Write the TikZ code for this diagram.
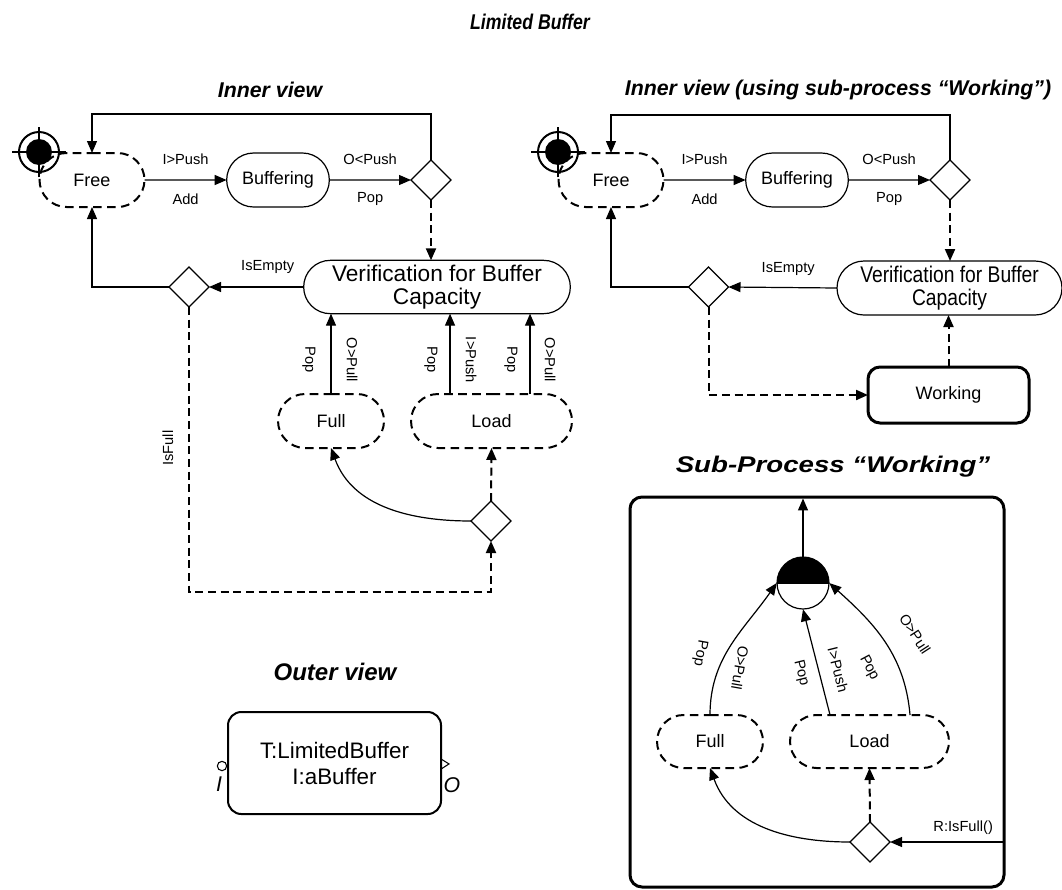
\documentclass[tikz,border=0pt]{standalone}
\usepackage{fontspec}
\usepackage{graphicx}
\setmainfont{Liberation Sans}
\usetikzlibrary{shapes.misc,shapes.geometric,arrows.meta}
\begin{document}
\begin{tikzpicture}[x=0.75pt,y=-0.75pt,
  every node/.style={font=\fontsize{13.5}{17}\selectfont},
  st/.style={rounded rectangle, draw, line width=0.9pt, minimum height=40.5pt, inner sep=0pt, outer sep=0pt},
  dst/.style={st, line width=1.5pt, dash pattern=on 6.5pt off 4pt},
  dec/.style={diamond, draw, line width=0.9pt, minimum width=30pt, minimum height=30pt, inner sep=0pt, outer sep=0pt},
  lbl/.style={font=\fontsize{11}{12}\selectfont, inner sep=0pt},
  arr/.style={line width=0.9pt, -{Triangle[length=9pt,width=7.5pt]}},
  darr/.style={arr, line width=1.5pt, dash pattern=on 6pt off 3.5pt},
  ttl/.style={font=\fontsize{16}{18}\selectfont\bfseries\itshape, inner sep=0pt},
  bigbox/.style={draw, rectangle, rounded corners=9pt, line width=2.25pt, inner sep=0pt, outer sep=0pt},
  startsym/.style={circle, draw, line width=1.5pt, minimum size=30pt, inner sep=0pt},
  vertxt/.style={font=\fontsize{17}{17.25}\selectfont}
]
\useasboundingbox (0,0) rectangle (1062,889);

% ---------- titles ----------
\node[ttl] (tmain) at (530,22) {\scalebox{0.83}[1]{Limited Buffer}};
\node[ttl] (tin1) at (270,90) {Inner view};
\node[ttl] (tin2) at (838,90) {Inner view (using sub-process “Working”)};
\node[ttl, font=\fontsize{17}{19}\selectfont\bfseries\itshape] (tsub) at (833,467) {\scalebox{1.22}[1]{Sub-Process “Working”}};
\node[ttl, font=\fontsize{18}{20}\selectfont\bfseries\itshape] (tout) at (335,672) {Outer view};

% ---------- left inner view ----------
\node[startsym] (s1) at (39,152) {};
\fill (s1.center) circle (9.75pt);
\draw[line width=1.5pt] ([xshift=-20pt]s1.center) -- ([xshift=20pt]s1.center);
\draw[line width=1.5pt] ([yshift=-19pt]s1.center) -- ([yshift=19pt]s1.center);

\node[dst, minimum width=78.75pt] (free1) at (92,180) {Free};
\node[st, minimum width=77pt] (buf1) at (278,180) {Buffering};
\node[dec] (d1) at (431,180) {};
\node[st, vertxt, minimum width=200pt, minimum height=40pt, align=center] (ver1) at (437,287) {Verification for Buffer\\Capacity};
\node[dec] (d2) at (189,287) {};
\node[dst, minimum width=79.5pt] (full1) at (331,421) {Full};
\node[dst, minimum width=120.75pt] (load1) at (491.5,421) {Load};
\node[dec] (d3) at (491,521) {};

\draw[arr] (free1) -- (buf1)
  node[lbl, midway, yshift=15.75pt] {I>Push}
  node[lbl, midway, yshift=-14.25pt] {Add};
\draw[arr] (buf1) -- (d1)
  node[lbl, midway, yshift=15.75pt] {O<Push}
  node[lbl, midway, yshift=-14.25pt] {Pop};
\draw[arr] (d1.north) -- ++(0,-46) -| (free1.north);
\draw[darr] (d1.south) -- (d1.south |- ver1.north);
\draw[arr] (ver1.west) -- (d2.east)
  node[lbl, pos=0.38, yshift=15pt] {IsEmpty};
\draw[arr] (d2.west) -| (free1.south);
\draw[darr] (d2.south) -- ++(0,285) coordinate (c1) -| (d3.south);
\node[lbl, rotate=90] (lisfull) at (168,448) {IsFull};
\draw[darr] (d3.north) -- (load1.south);
\draw[arr] (d3.west) to[out=180,in=-70] (full1.south);

\draw[arr] (full1.north) -- (full1.north |- ver1.south);
\draw[arr] ([xshift=-31.1pt]load1.north) -- ([xshift=-31.1pt]load1.north |- ver1.south);
\draw[arr] ([xshift=28.9pt]load1.north) -- ([xshift=28.9pt]load1.north |- ver1.south);
\node[lbl, rotate=-90] (l1) at (309,360) {Pop};
\node[lbl, rotate=-90] (l2) at (352,360) {O>Pull};
\node[lbl, rotate=-90] (l3) at (431,360) {Pop};
\node[lbl, rotate=-90] (l4) at (471,360) {I>Push};
\node[lbl, rotate=-90] (l5) at (511,360) {Pop};
\node[lbl, rotate=-90] (l6) at (550,360) {O>Pull};

% ---------- right inner view ----------
\node[startsym] (s2) at (558,152) {};
\fill (s2.center) circle (9.75pt);
\draw[line width=1.5pt] ([xshift=-20pt]s2.center) -- ([xshift=20pt]s2.center);
\draw[line width=1.5pt] ([yshift=-19pt]s2.center) -- ([yshift=19pt]s2.center);

\node[dst, minimum width=78.75pt] (free2) at (611,180) {Free};
\node[st, minimum width=77pt] (buf2) at (797,180) {Buffering};
\node[dec] (d4) at (950,180) {};
\node[st, vertxt, minimum width=168.75pt, minimum height=40.5pt, align=center] (ver2) at (949.5,288) {\scalebox{0.85}[1]{Verification for Buffer}\\\scalebox{0.85}[1]{Capacity}};
\node[dec] (d5) at (708.5,287) {};
\node[bigbox, minimum width=120.75pt, minimum height=42pt] (work) at (948.5,395) {Working};

\draw[arr] (free2) -- (buf2)
  node[lbl, midway, yshift=15.75pt] {I>Push}
  node[lbl, midway, yshift=-14.25pt] {Add};
\draw[arr] (buf2) -- (d4)
  node[lbl, midway, yshift=15.75pt] {O<Push}
  node[lbl, midway, yshift=-14.25pt] {Pop};
\draw[arr] (d4.north) -- ++(0,-45) -| (free2.north);
\draw[darr] (d4.south) -- (d4.south |- ver2.north);
\draw[arr] (ver2.west) -- (d5.east)
  node[lbl, pos=0.45, yshift=14.25pt] {IsEmpty};
\draw[arr] (d5.west) -| (free2.south);
\draw[darr] (d5.south) |- (work.west);
\draw[darr] (work.north) -- (work.north |- ver2.south);

% ---------- sub-process ----------
\node[bigbox, minimum width=280.5pt, minimum height=292.5pt] (sub) at (817,692) {};
\node[circle, minimum size=39pt, inner sep=0pt] (fin) at (803,583) {};
\begin{scope}
  \clip ([xshift=-1pt]fin.west) rectangle ([xshift=1pt,yshift=21pt]fin.east);
  \fill (fin.center) circle (19.5pt);
\end{scope}
\draw[line width=0.9pt] (fin.center) circle (19.5pt);
\draw[line width=0.9pt] (fin.west) -- (fin.east);
\draw[arr] (fin.north) -- ([yshift=-1.1pt]fin.north |- sub.north);

\node[dst, minimum width=79.5pt, minimum height=39.75pt] (full3) at (710,741.5) {Full};
\node[dst, minimum width=119.25pt, minimum height=39.75pt] (load3) at (869.5,741.5) {Load};
\node[dec] (d6) at (870,842) {};

\draw[arr] ([xshift=-1.1pt]sub.east |- d6) -- (d6.east)
  node[lbl, pos=0.35, yshift=10.5pt] {R:IsFull()};
\draw[darr] (d6.north) -- (load3.south);
\draw[arr] (d6.west) to[out=180,in=-70] (full3.south);

\draw[arr] (full3.north) to[out=90,in=-125] (fin.west);
\draw[arr] ([xshift=-29.6pt]load3.north) -- (fin.south);
\draw[arr] ([xshift=30.4pt]load3.north) to[out=95,in=-42] (fin.east);
\node[lbl, rotate=-100] (m1) at (700,653) {Pop};
\node[lbl, rotate=-100] (m2) at (740,668) {O>Pull};
\node[lbl, rotate=-76] (m3) at (801,673) {Pop};
\node[lbl, rotate=-76] (m4) at (838,670) {I>Push};
\node[lbl, rotate=-62] (m5) at (869,668) {Pop};
\node[lbl, rotate=-57] (m6) at (915,634) {O>Pull};

% ---------- outer view ----------
\node[draw, rectangle, rounded corners=10pt, line width=1.5pt, minimum width=159.75pt, minimum height=76.5pt, align=center, font=\fontsize{16.8}{19.5}\selectfont] (outer) at (334.5,763) {T:LimitedBuffer\\I:aBuffer};
\node[circle, draw, line width=0.8pt, minimum size=7pt, inner sep=0pt] (pin) at (222,766) {};
\node[font=\fontsize{16}{18}\selectfont\itshape, inner sep=0pt] (pinl) at (219,784) {I};
\coordinate (pout) at (441,764);
\draw[line width=0.8pt] ([yshift=3.8pt]pout) -- ++(8,5) -- ([yshift=-3.8pt]pout);
\node[font=\fontsize{16}{18}\selectfont\itshape, inner sep=0pt] (poutl) at (452,785) {O};
\end{tikzpicture}
\end{document}
